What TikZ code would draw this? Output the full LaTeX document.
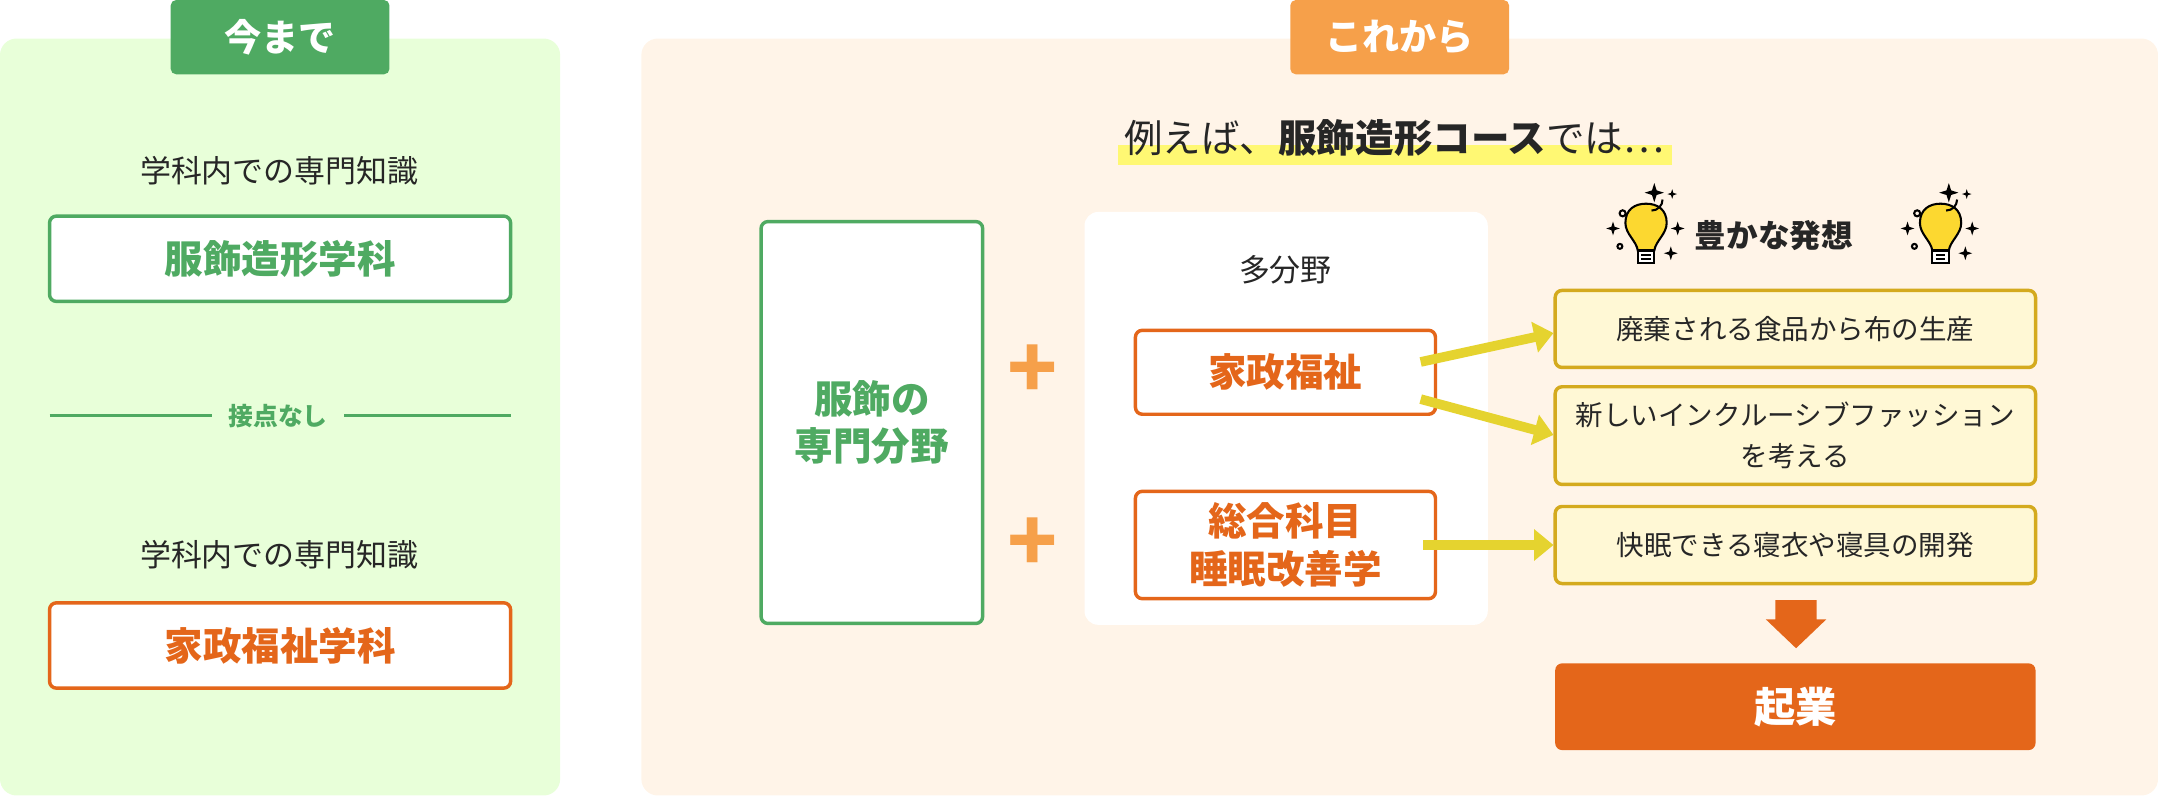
\documentclass[tikz,border=0pt]{standalone}
\usepackage{fontspec}
\setmainfont{Noto Sans CJK JP}
\usetikzlibrary{positioning,arrows.meta}
\definecolor{grn}{HTML}{4FAA62}
\definecolor{orn}{HTML}{E4661A}
\definecolor{lorn}{HTML}{F6A04A}
\definecolor{ylw}{HTML}{E5D32F}
\definecolor{ybd}{HTML}{D4AA1E}
\definecolor{yfl}{HTML}{FFF8D5}
\definecolor{bulb}{HTML}{FCD830}
\tikzset{
  tagbox/.style={fill=#1, text=white, rounded corners=4, minimum width=159, minimum height=54, font=\fontsize{27}{30}\selectfont\bfseries},
  subject/.style={draw=#1, line width=2.5, fill=white, text=#1, rounded corners=5, font=\fontsize{28}{34}\selectfont\bfseries, align=center},
  idea/.style={draw=ybd, line width=2.5, fill=yfl, rounded corners=5, minimum width=349, font=\fontsize{20}{30}\selectfont, align=center, text=black!85},
  plain/.style={font=\fontsize{22.5}{26}\selectfont, text=black!85},
  yarrow/.style={draw=ylw, line width=7, -{Triangle[length=14, width=22]}},
  sparkle/.pic={\fill (0,-5) -- (1.2,-1.2) -- (5,0) -- (1.2,1.2) -- (0,5) -- (-1.2,1.2) -- (-5,0) -- (-1.2,-1.2) -- cycle;},
}
\newcommand{\lightbulb}[1]{%
  \begin{scope}[shift={#1}, line width=1.5]
    \draw[fill=bulb] (-6,12) .. controls (-7,5) and (-15,0) .. (-15,-8) .. controls (-15,-18) and (-8,-22) .. (0,-22)
      .. controls (8,-22) and (15,-18) .. (15,-8) .. controls (15,0) and (7,5) .. (6,12) -- cycle;
    \draw[fill=white] (-6,12) rectangle (6,21);
    \draw (-3.5,15.5) -- (3.5,15.5) (-3.5,18.5) -- (3.5,18.5);
    \draw (4,-17) arc (90:0:8);
    \pic at (-24,-4) {sparkle};
    \pic at (23,-4) {sparkle};
    \pic at (18,14) {sparkle};
    \pic[scale=1.4] at (6,-30) {sparkle};
    \pic[scale=0.7] at (19,-29) {sparkle};
    \draw (-17,-15) circle (2.2);
    \draw (-19,9) circle (1.8);
  \end{scope}}

\begin{document}
\begin{tikzpicture}[x=1pt,y=-1pt]
  \useasboundingbox (0,0) rectangle (1568,578);

  % left panel
  \fill[green!60!yellow!15, rounded corners=12] (0,28) rectangle (407,578);
  \node[tagbox=grn] (now) at (203.5,27) {今まで};
  \node[plain] (know1) at (203,124) {学科内での専門知識};
  \node[subject=grn, minimum width=335, minimum height=62] (fuku) at (203.5,188) {服飾造形学科};
  \node[font=\fontsize{18}{20}\selectfont\bfseries, text=grn, inner xsep=12] (none) at (202,302) {接点なし};
  \coordinate (la) at (36,302);
  \coordinate (lb) at (371,302);
  \draw[grn, line width=2] (la) -- (none.west) (none.east) -- (lb);
  \node[plain] (know2) at (203,403) {学科内での専門知識};
  \node[subject=orn, minimum width=335, minimum height=62] (kasei) at (203.5,469) {家政福祉学科};

  % right panel
  \fill[orange!9, rounded corners=12] (466,28) rectangle (1568,578);
  \node[tagbox=lorn] (future) at (1017,27) {これから};
  \fill[yellow!55] (812,105) rectangle (1215,120);
  \node[font=\fontsize{28}{32}\selectfont, text=black!85] (course) at (1013,100) {例えば、\textbf{服飾造形コース}では…};

  \node[subject=grn, minimum width=161, minimum height=292] (senmon) at (633.5,307) {服飾の\\専門分野};
  \node[font=\fontsize{60}{60}\selectfont\bfseries, text=lorn] (plus1) at (750,270) {+};
  \node[font=\fontsize{60}{60}\selectfont\bfseries, text=lorn] (plus2) at (750,396) {+};

  \fill[white, rounded corners=10] (788,154) rectangle (1081,454);
  \node[plain] (multi) at (934,196) {多分野};
  \node[subject=orn, minimum width=218, minimum height=61] (fukushi) at (934,270.5) {家政福祉};
  \node[subject=orn, minimum width=218, minimum height=78, font=\fontsize{28}{35}\selectfont\bfseries] (sleep) at (934,396) {総合科目\\睡眠改善学};

  % ideas
  \node[font=\fontsize{23}{28}\selectfont\bfseries, text=black!85] (rich) at (1289,171) {豊かな発想};
  \lightbulb{(1196,170)}
  \lightbulb{(1410,170)}
  \node[idea, minimum height=56] (idea1) at (1304.5,239) {廃棄される食品から布の生産};
  \node[idea, minimum height=71] (idea2) at (1304.5,316.5) {新しいインクルーシブファッション\\を考える};
  \node[idea, minimum height=56] (idea3) at (1304.5,396) {快眠できる寝衣や寝具の開発};
  \node[fill=orn, text=white, rounded corners=5, minimum width=349, minimum height=63, font=\fontsize{30}{34}\selectfont\bfseries] (kigyo) at (1304.5,513.5) {起業};

  \draw[yarrow] ([xshift=-12]fukushi.east |- 0,263) -- (idea1.west |- 0,242);
  \draw[yarrow] ([xshift=-12]fukushi.east |- 0,290) -- (idea2.west |- 0,316);
  \draw[yarrow] ([xshift=-10]sleep.east) -- (idea3.west);
  \fill[orn] (1290,436) -- (1320,436) -- (1320,450) -- (1327,450) -- (1305,471) -- (1283,450) -- (1290,450) -- cycle;
\end{tikzpicture}
\end{document}
